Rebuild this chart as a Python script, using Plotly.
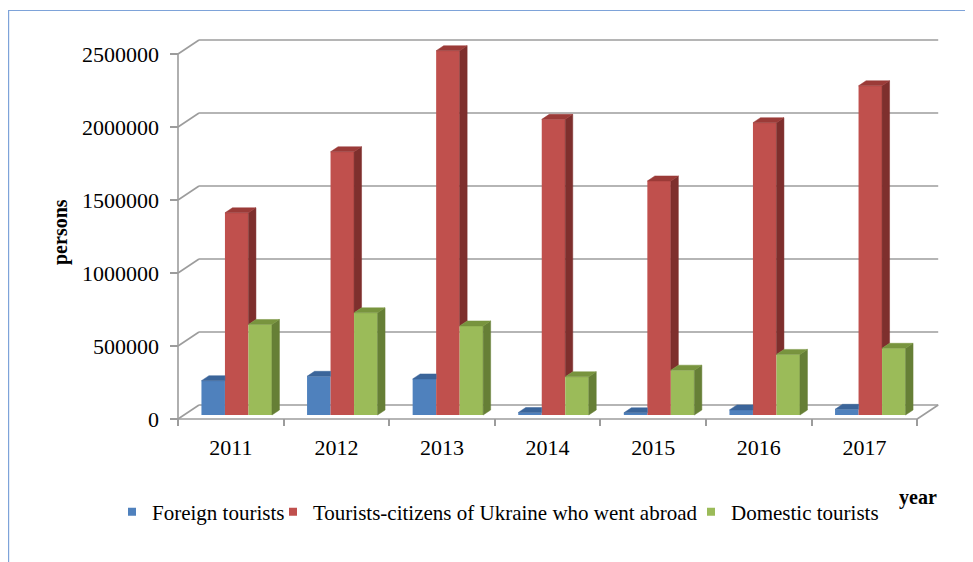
import plotly.graph_objects as go

# ---------------- data ----------------
years = ["2011", "2012", "2013", "2014", "2015", "2016", "2017"]
series_names = ["Foreign tourists",
                "Tourists-citizens of Ukraine who went abroad",
                "Domestic tourists"]
foreign = [235000, 265000, 247000, 17000, 15000, 35000, 39000]
abroad = [1385000, 1803000, 2495000, 2025000, 1603000, 2002000, 2255000]
domestic = [620000, 700000, 610000, 262000, 307000, 415000, 457000]
y_tick_vals = [0, 500000, 1000000, 1500000, 2000000, 2500000]
y_tick_text = ["0", "500000", "1000000", "1500000", "2000000", "2500000"]

# ---------------- styling / geometry ----------------
OFF = 8                      # page body margin in the browser
W, H = 973 - OFF, 562 - OFF
PLOT_LEFT, PLOT_RIGHT, PLOT_TOP, PLOT_BOTTOM = 170, 950, 20, 426   # screen pixels
L = PLOT_LEFT - OFF
T = PLOT_TOP - OFF
R = W - (PLOT_RIGHT - OFF)
B = H - (PLOT_BOTTOM - OFF)
PW, PH = W - L - R, H - T - B
PX_PER_CAT = 105.6
Y_PER_PX = 500000 / 73
X0_PX = 8      # pixels from plot left edge to x=0
Y0_PX = 7      # pixels from plot bottom edge to y=0


def dx(p):
    return p / PX_PER_CAT


def dy(p):
    return p * Y_PER_PX


def px(p):  # screen pixel -> paper x
    return (p - PLOT_LEFT) / PW


def py(p):  # screen pixel -> paper y
    return (PLOT_BOTTOM - p) / PH


WALL_DX, WALL_DY = dx(21), dy(14)
BAR_X0, BAR_Y0 = dx(5.9), dy(4)
BAR_DDX, BAR_DDY = dx(7.5), dy(5)
BAR_W = dx(23.5)

front_cols = ["#4F81BD", "#C0504D", "#9BBB59"]
top_cols = ["#3B659A", "#9B3B38", "#78943E"]
side_cols = ["#2F5582", "#7E2F2D", "#667F36"]
grid_col = "#9C9C9C"
FONT = "Liberation Serif"

values = [foreign, abroad, domestic]
n = len(years)

fig = go.Figure()

# front faces (bars)
for k, vals in enumerate(values):
    xs = [i + 0.5 + BAR_X0 + (k - 1) * BAR_W for i in range(n)]
    fig.add_trace(go.Bar(
        x=xs, y=vals, base=[BAR_Y0] * n, width=BAR_W,
        marker=dict(color=front_cols[k], line=dict(width=0)),
        name=series_names[k], showlegend=False, hoverinfo="y"))

# top & side faces (pseudo 3D)
for k, vals in enumerate(values):
    tx, ty, sx, sy = [], [], [], []
    for i in range(n):
        v = vals[i]
        xl = i + 0.5 + BAR_X0 + (k - 1.5) * BAR_W
        xr = xl + BAR_W
        top = BAR_Y0 + v
        nxt = values[k + 1][i] if k + 1 < len(values) else None
        # top face
        if nxt is not None and nxt > v:
            tx += [xl, xr, xr, xl + BAR_DDX, xl, None]
            ty += [top, top, top + BAR_DDY, top + BAR_DDY, top, None]
        else:
            tx += [xl, xr, xr + BAR_DDX, xl + BAR_DDX, xl, None]
            ty += [top, top, top + BAR_DDY, top + BAR_DDY, top, None]
        # right side face (visible part)
        low = BAR_Y0 + (nxt if nxt is not None else 0)
        if low < top:
            sx += [xr, xr + BAR_DDX, xr + BAR_DDX, xr, xr, None]
            sy += [low, low + BAR_DDY, top + BAR_DDY, top, low, None]
    fig.add_trace(go.Scatter(x=sx, y=sy, mode="lines", fill="toself",
                             fillcolor=side_cols[k], line=dict(width=0.5, color=side_cols[k]),
                             showlegend=False, hoverinfo="skip"))
    fig.add_trace(go.Scatter(x=tx, y=ty, mode="lines", fill="toself",
                             fillcolor=top_cols[k], line=dict(width=0.5, color=top_cols[k]),
                             showlegend=False, hoverinfo="skip"))

# legend entries (three separate legends)
legend_names = ["legend", "legend2", "legend3"]
for k in range(3):
    fig.add_trace(go.Scatter(x=[None], y=[None], mode="markers",
                             marker=dict(symbol="square", size=8, color=front_cols[k]),
                             name=series_names[k], legend=legend_names[k]))

# walls / gridlines / floor as shapes
shapes = []
for v in y_tick_vals:
    shapes.append(dict(type="line", xref="x", yref="y", x0=0, y0=v,
                       x1=WALL_DX, y1=v + WALL_DY, layer="below",
                       line=dict(color=grid_col, width=1.6)))
    shapes.append(dict(type="line", xref="x", yref="y", x0=WALL_DX, y0=v + WALL_DY,
                       x1=n + WALL_DX, y1=v + WALL_DY, layer="below",
                       line=dict(color=grid_col, width=1.6)))
shapes.append(dict(type="line", xref="x", yref="y", x0=0, y0=0, x1=n, y1=0,
                   layer="below", line=dict(color=grid_col, width=1.6)))
shapes.append(dict(type="line", xref="x", yref="y", x0=n, y0=0, x1=n + WALL_DX, y1=WALL_DY,
                   layer="below", line=dict(color=grid_col, width=1.6)))
shapes.append(dict(type="line", xref="x", yref="y", x0=0, y0=0, x1=0, y1=y_tick_vals[-1],
                   layer="below", line=dict(color=grid_col, width=1.6)))
# outer frame
shapes.append(dict(type="rect", xref="paper", yref="paper",
                   x0=px(8.6), y0=py(580), x1=px(967), y1=py(10.5),
                   line=dict(color="#7EA3D9", width=1.2), layer="below"))

legend_text_x = [152, 313, 731]
legends = {}
for k, name in enumerate(legend_names):
    legends[name] = dict(orientation="h", x=px(legend_text_x[k] - 40), xanchor="left",
                         y=py(512), yanchor="middle", bgcolor="rgba(0,0,0,0)",
                         font=dict(family=FONT, size=21, color="#000000"))

fig.update_layout(
    width=W, height=H,
    margin=dict(l=L, r=R, t=T, b=B, pad=0, autoexpand=False),
    paper_bgcolor="white", plot_bgcolor="white",
    barmode="overlay",
    shapes=shapes,
    showlegend=True,
    **legends,
    xaxis=dict(range=[-dx(X0_PX), dx(PW - X0_PX)], showgrid=False, zeroline=False,
               showline=False, tickvals=[i + 0.5 for i in range(n)], ticktext=years,
               ticks="", ticklabelstandoff=6,
               tickfont=dict(family=FONT, size=22, color="#000000"),
               minor=dict(ticks="inside", tick0=0, dtick=1, ticklen=7,
                          tickcolor=grid_col, tickwidth=1.6, showgrid=False),
               fixedrange=True),
    yaxis=dict(range=[-dy(Y0_PX), dy(PH - Y0_PX)], showgrid=False, zeroline=False,
               showline=False, tickvals=y_tick_vals, ticktext=y_tick_text,
               ticks="inside", ticklen=8, tickcolor=grid_col, tickwidth=1.6,
               ticklabelstandoff=10,
               tickfont=dict(family=FONT, size=22, color="#000000"),
               fixedrange=True),
    annotations=[
        dict(text="<b>persons</b>", xref="paper", yref="paper", x=px(60), y=py(232),
             xanchor="center", yanchor="middle", textangle=-90, showarrow=False,
             font=dict(family=FONT, size=20, color="#000000")),
        dict(text="<b>year</b>", xref="paper", yref="paper", x=px(918), y=py(497),
             xanchor="center", yanchor="middle", showarrow=False,
             font=dict(family=FONT, size=20, color="#000000")),
    ],
)

fig.write_html("out.html")
